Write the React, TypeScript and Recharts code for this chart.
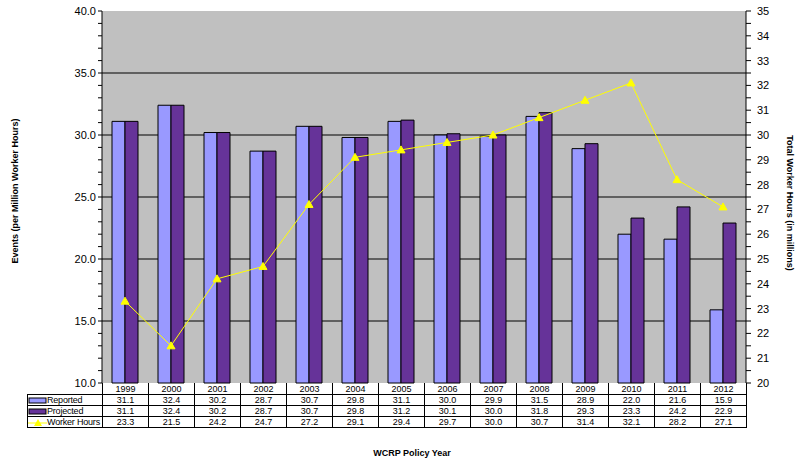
import { Bar, CartesianGrid, ComposedChart, Line, XAxis, YAxis } from "recharts";

const years = ["1999", "2000", "2001", "2002", "2003", "2004", "2005", "2006", "2007", "2008", "2009", "2010", "2011", "2012"];
const reported = [31.1, 32.4, 30.2, 28.7, 30.7, 29.8, 31.1, 30.0, 29.9, 31.5, 28.9, 22.0, 21.6, 15.9];
const projected = [31.1, 32.4, 30.2, 28.7, 30.7, 29.8, 31.2, 30.1, 30.0, 31.8, 29.3, 23.3, 24.2, 22.9];
const workerHours = [23.3, 21.5, 24.2, 24.7, 27.2, 29.1, 29.4, 29.7, 30.0, 30.7, 31.4, 32.1, 28.2, 27.1];

const leftLabels = [10, 15, 20, 25, 30, 35, 40];
const rightLabels = [20, 21, 22, 23, 24, 25, 26, 27, 28, 29, 30, 31, 32, 33, 34, 35];

// minor ticks: every 1 on the left, every 0.5 on the right
const leftTicks = Array.from({ length: 31 }, (_, i) => 10 + i);
const rightTicks = Array.from({ length: 31 }, (_, i) => 20 + i * 0.5);

const data = years.map((year, i) => ({
  year,
  reported: reported[i],
  projected: projected[i],
  hours: workerHours[i],
}));

const FONT = "Arial, 'Liberation Sans', sans-serif";
const REPORTED = "#9999FF";
const PROJECTED = "#663399";
const HOURS = "#FFFF00";

const W = 799;
const H = 462;
const PLOT_LEFT = 102;
const PLOT_RIGHT = 746;
const PLOT_TOP = 11;
const PLOT_BOTTOM = 383;
const COL_W = (PLOT_RIGHT - PLOT_LEFT) / years.length;

function LeftTick(props: any) {
  const { x, y, payload } = props;
  if (!leftLabels.includes(payload.value)) return null;
  return (
    <text x={x} y={y} dy={4} textAnchor="end" fontSize={11} fontFamily={FONT} fill="#000">
      {payload.value.toFixed(1)}
    </text>
  );
}

function RightTick(props: any) {
  const { x, y, payload } = props;
  if (!rightLabels.includes(payload.value)) return null;
  return (
    <text x={x} y={y} dy={4} textAnchor="start" fontSize={11} fontFamily={FONT} fill="#000">
      {payload.value}
    </text>
  );
}

function Triangle(props: any) {
  const { cx, cy } = props;
  if (cx == null || cy == null) return null;
  return (
    <polygon
      points={`${cx},${cy - 4} ${cx - 4},${cy + 3} ${cx + 4},${cy + 3}`}
      fill={HOURS}
      stroke={HOURS}
    />
  );
}

function LegendKey({ kind }: { kind: string }) {
  if (kind === "hours") {
    return (
      <svg width={19} height={9} style={{ verticalAlign: "middle" }}>
        <line x1={0} y1={5} x2={19} y2={5} stroke={HOURS} strokeWidth={1} />
        <polygon points="10,1 6,8 14,8" fill={HOURS} />
      </svg>
    );
  }
  return (
    <svg width={19} height={9} style={{ verticalAlign: "middle" }}>
      <rect x={1} y={2} width={17} height={5} fill={kind === "reported" ? REPORTED : PROJECTED} stroke="#000" />
    </svg>
  );
}

const rows = [
  { key: "reported", label: "Reported", values: reported },
  { key: "projected", label: "Projected", values: projected },
  { key: "hours", label: "Worker Hours", values: workerHours },
];

export default function App() {
  const cell: React.CSSProperties = {
    border: "1px solid #000",
    padding: 0,
    textAlign: "center",
    fontSize: 9,
    fontFamily: FONT,
    lineHeight: "10px",
    height: 10,
  };
  return (
    <div style={{ position: "absolute", left: 0, top: 0, width: W, height: H, background: "#fff" }}>
      <ComposedChart
        width={W}
        height={H}
        data={data}
        margin={{ top: PLOT_TOP, right: 0, bottom: H - PLOT_BOTTOM, left: 0 }}
        barGap={0}
        barSize={13}
      >
        <CartesianGrid
          vertical={false}
          yAxisId="left"
          horizontalValues={[15, 20, 25, 30, 35]}
          stroke="#000"
          strokeOpacity={1}
          fill="#C0C0C0"
          fillOpacity={1}
        />
        <XAxis dataKey="year" height={0} tick={false} tickLine={false} axisLine={{ stroke: "#000" }} />
        <YAxis
          yAxisId="left"
          orientation="left"
          width={PLOT_LEFT}
          domain={[10, 40]}
          ticks={leftTicks}
          interval={0}
          tick={<LeftTick />}
          tickSize={4}
          tickMargin={2}
          tickLine={{ stroke: "#000" }}
          axisLine={{ stroke: "#000" }}
        />
        <YAxis
          yAxisId="right"
          orientation="right"
          width={W - PLOT_RIGHT}
          domain={[20, 35]}
          ticks={rightTicks}
          interval={0}
          tick={<RightTick />}
          tickSize={5}
          tickMargin={6}
          tickLine={{ stroke: "#000" }}
          axisLine={{ stroke: "#000" }}
        />
        <Bar yAxisId="left" dataKey="reported" fill={REPORTED} stroke="#000" strokeWidth={1} isAnimationActive={false} />
        <Bar yAxisId="left" dataKey="projected" fill={PROJECTED} stroke="#000" strokeWidth={1} isAnimationActive={false} />
        <Line
          yAxisId="right"
          dataKey="hours"
          stroke={HOURS}
          strokeWidth={1}
          dot={<Triangle />}
          activeDot={false}
          isAnimationActive={false}
        />
      </ComposedChart>

      {/* data table under the plot */}
      <table
        style={{
          position: "absolute",
          left: 27,
          top: PLOT_BOTTOM,
          borderCollapse: "collapse",
          tableLayout: "fixed",
          width: PLOT_RIGHT - 27 + 1,
        }}
      >
        <colgroup>
          <col style={{ width: PLOT_LEFT - 27 }} />
          {years.map((y) => (
            <col key={y} style={{ width: COL_W }} />
          ))}
        </colgroup>
        <tbody>
          <tr>
            <td style={{ ...cell, border: "none", borderRight: "1px solid #000", height: 11 }} />
            {years.map((y) => (
              <td key={y} style={{ ...cell, borderTop: "none", height: 11 }}>
                {y}
              </td>
            ))}
          </tr>
          {rows.map((r) => (
            <tr key={r.key}>
              <td style={{ ...cell, textAlign: "left", whiteSpace: "nowrap", overflow: "hidden", letterSpacing: -0.2 }}>
                <LegendKey kind={r.key} />
                {r.label}
              </td>
              {r.values.map((v, i) => (
                <td key={i} style={cell}>
                  {v.toFixed(1)}
                </td>
              ))}
            </tr>
          ))}
        </tbody>
      </table>

      <div
        style={{
          position: "absolute",
          left: 15,
          top: 191,
          transform: "translate(-50%, -50%) rotate(-90deg)",
          whiteSpace: "nowrap",
          fontFamily: FONT,
          fontWeight: "bold",
          fontSize: 9,
        }}
      >
        Events (per Million Worker Hours)
      </div>
      <div
        style={{
          position: "absolute",
          left: 790,
          top: 203,
          transform: "translate(-50%, -50%) rotate(90deg)",
          whiteSpace: "nowrap",
          fontFamily: FONT,
          fontWeight: "bold",
          fontSize: 9,
        }}
      >
        Total Worker Hours (in millions)
      </div>
      <div
        style={{
          position: "absolute",
          left: 412,
          top: 453,
          transform: "translate(-50%, -50%)",
          whiteSpace: "nowrap",
          fontFamily: FONT,
          fontWeight: "bold",
          fontSize: 9,
        }}
      >
        WCRP Policy Year
      </div>
    </div>
  );
}
